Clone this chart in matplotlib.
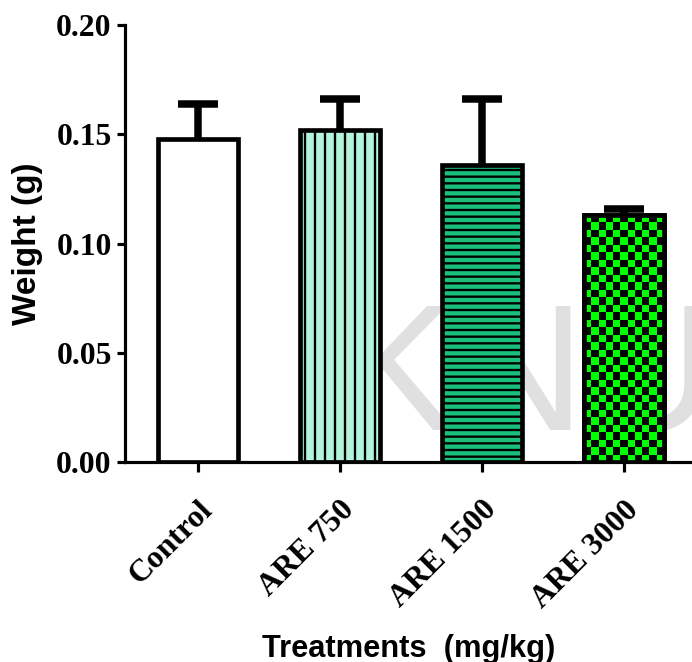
import numpy as np
import matplotlib.pyplot as plt
from matplotlib.colors import ListedColormap

# ── Data ─────────────────────────────────────────────
groups = ["Control", "ARE 750", "ARE 1500", "ARE 3000"]
means  = [0.148, 0.152, 0.136, 0.113]
sem    = [0.016, 0.014, 0.030, 0.003]

fills   = ["white", "#b3f5dc", "#19bf7a", "#00ff00"]
hatches = [None, "||", "---", None]

plt.rcParams.update({
    "hatch.linewidth": 1.4,
    "axes.linewidth":  1.9,
})

DPI = 120
fig = plt.figure(figsize=(692 / DPI, 662 / DPI), dpi=DPI)
ax = fig.add_axes([0.1806, 0.3021, 0.8194, 0.6601])
ax.set_zorder(1)
ax.patch.set_alpha(0)

# faint watermark behind the plot
fig.text(0.485, 0.295, "KNUST", fontsize=108, color="#e0e0e0",
         family="Liberation Sans", ha="left", va="bottom", zorder=0)

x = np.arange(len(groups))
W = 0.56

# error bars first, so the bars hide the lower half
ax.errorbar(x, means, yerr=sem, fmt="none",
            ecolor="black", elinewidth=4.5, capsize=12, capthick=4.5,
            zorder=1.5)

bars = ax.bar(x, means, W, color=fills, edgecolor="black", linewidth=2.8,
              zorder=2)
for b, h in zip(bars, hatches):
    if h:
        b.set_hatch(h)

# checkerboard fill for the last bar
b = bars[3]
bx, by = b.get_x(), b.get_y()
bw, bh = b.get_width(), b.get_height()
nx = int(round(bw / 0.0528))
ny = int(round(bh / 0.00343))
board = (np.add.outer(np.arange(ny), np.arange(nx)) % 2).astype(float)
im = ax.imshow(board, cmap=ListedColormap(["#00ff00", "black"]),
               extent=(bx, bx + bw, by, by + bh), origin="lower",
               aspect="auto", interpolation="nearest", zorder=2.5)
im.set_clip_path(b)
ax.bar(x[3], means[3], W, color="none", edgecolor="black", linewidth=2.8,
       zorder=3)

ax.set_xlim(-0.514, 3.479)
ax.set_ylim(0, 0.20)
ax.set_yticks([0.00, 0.05, 0.10, 0.15, 0.20])
ax.set_yticklabels([f"{v:.2f}" for v in ax.get_yticks()])
ax.set_xticks(x)
ax.set_xticklabels(groups, rotation=45, ha="right", rotation_mode="anchor")

for lab in ax.get_yticklabels() + ax.get_xticklabels():
    lab.set_family("Liberation Serif")
    lab.set_fontweight("bold")
    lab.set_fontsize(19)

ax.tick_params(axis="y", length=5, width=1.9, pad=3)
ax.tick_params(axis="x", length=6, width=1.9, pad=14)

ax.spines["top"].set_visible(False)
ax.spines["right"].set_visible(False)

ax.set_ylabel("Weight (g)", family="Liberation Sans", fontweight="bold",
              fontsize=20, labelpad=8)
ax.set_xlabel("Treatments  (mg/kg)", family="Liberation Sans",
              fontweight="bold", fontsize=18.5, labelpad=12)

fig.savefig("out.png", dpi=DPI)
